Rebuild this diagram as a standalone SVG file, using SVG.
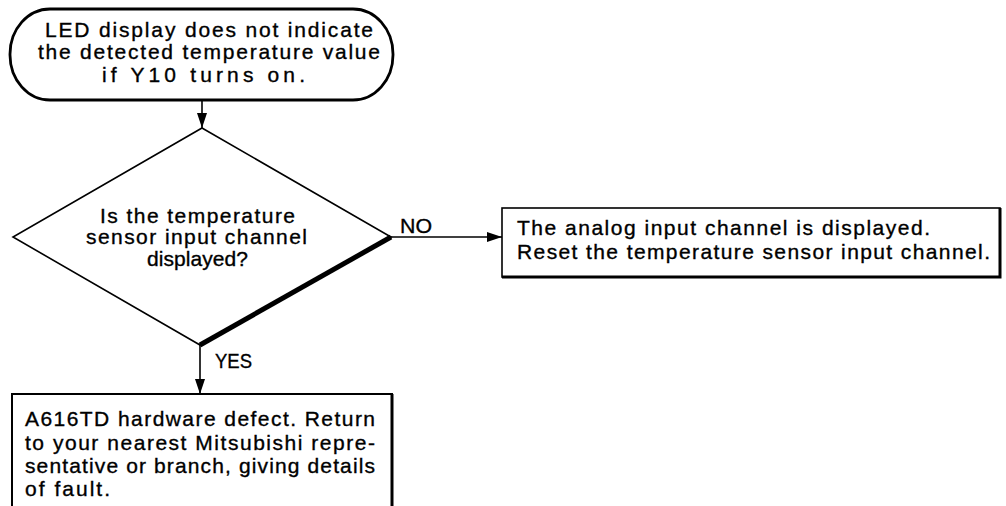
<svg xmlns="http://www.w3.org/2000/svg" width="1006" height="506" viewBox="0 0 1006 506">
<defs>
<style>
text{font-family:"Liberation Sans",Arial,sans-serif;font-size:21px;fill:#000;stroke:#000;stroke-width:0.35}
.shape{fill:#fff;stroke:#000;stroke-width:1.6}
.thick{fill:none;stroke:#000;stroke-width:3}
.conn{fill:none;stroke:#000;stroke-width:1.6}
</style>
<marker id="ah" markerUnits="userSpaceOnUse" markerWidth="15" markerHeight="10" refX="15" refY="5" orient="auto">
<path d="M0,0 L15,5 L0,10 z" fill="#000"/>
</marker>
</defs>
<rect width="1006" height="506" fill="#fff"/>

<g id="connectors">
<line class="conn" x1="202" y1="100" x2="202" y2="128" marker-end="url(#ah)"/>
<line class="conn" x1="391" y1="237" x2="502" y2="237" marker-end="url(#ah)"/>
<line class="conn" x1="200" y1="345" x2="200" y2="394" marker-end="url(#ah)"/>
<text x="400" y="233" textLength="32" lengthAdjust="spacingAndGlyphs">NO</text>
<text x="215" y="368" textLength="37" lengthAdjust="spacingAndGlyphs">YES</text>
</g>

<g id="start">
<rect x="10" y="9" width="383" height="91" rx="40" ry="45" fill="#fff" stroke="#000" stroke-width="2.8"/>
<text x="45" y="37" textLength="328" lengthAdjust="spacing">LED display does not indicate</text>
<text x="38" y="59" textLength="342" lengthAdjust="spacing">the detected temperature value</text>
<text x="102" y="82" textLength="203" lengthAdjust="spacing">if Y10 turns on.</text>
</g>

<g id="decision">
<polygon class="shape" points="202,128 391,237 200,345 13,237"/>
<line x1="391" y1="237" x2="200" y2="345" stroke="#000" stroke-width="5"/>
<text x="100" y="223" textLength="195" lengthAdjust="spacing">Is the temperature</text>
<text x="86" y="244" textLength="221" lengthAdjust="spacing">sensor input channel</text>
<text x="147" y="266" textLength="101" lengthAdjust="spacing">displayed?</text>
</g>

<g id="reset">
<rect class="shape" x="502" y="208" width="498" height="69"/>
<polyline class="thick" points="502,277 1000,277 1000,208"/>
<text x="517" y="235" textLength="413" lengthAdjust="spacing">The analog input channel is displayed.</text>
<text x="517" y="259" textLength="473" lengthAdjust="spacing">Reset the temperature sensor input channel.</text>
</g>

<g id="defect">
<polyline points="12,510 12,394 392,394 392,510" fill="#fff" stroke="#000" stroke-width="2"/>
<line x1="392" y1="394" x2="392" y2="510" stroke="#000" stroke-width="3"/>
<text x="25" y="426" textLength="350" lengthAdjust="spacing">A616TD hardware defect. Return</text>
<text x="25" y="450" textLength="350" lengthAdjust="spacing">to your nearest Mitsubishi repre-</text>
<text x="25" y="473" textLength="350" lengthAdjust="spacing">sentative or branch, giving details</text>
<text x="25" y="496" textLength="85" lengthAdjust="spacing">of fault.</text>
</g>
</svg>
